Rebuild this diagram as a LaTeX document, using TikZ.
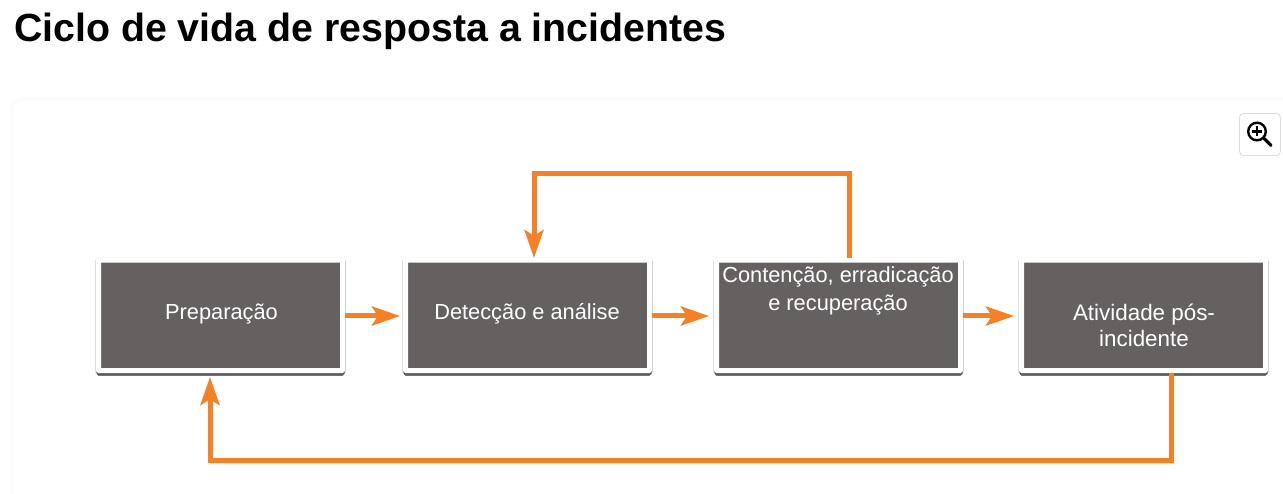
\documentclass[tikz,border=0pt]{standalone}
\usepackage{fontspec}
\setmainfont{Liberation Sans}
\usetikzlibrary{arrows.meta}
\definecolor{boxgray}{HTML}{656161}
\definecolor{arroworange}{HTML}{F58025}
\tikzset{
  x=1pt,y=-1pt,
  stagebox/.style={draw=white,line width=5pt,fill=boxgray,rounded corners=1pt,minimum width=244pt,minimum height=110.5pt,inner sep=0pt,anchor=center,
    preaction={draw=black,fill=none,line width=6.5pt,opacity=.2,transform canvas={yshift=-1pt}},
    preaction={draw=black,fill=none,line width=4pt,opacity=.55,transform canvas={yshift=-3.2pt}}},
  stagetext/.style={text=white,font=\fontsize{21.8}{28}\selectfont,align=center,inner sep=0pt},
  flow/.style={draw=arroworange,line width=5pt,-{Stealth[length=28pt,width=19pt,inset=6pt,fill=arroworange]}},
}
\begin{document}
\begin{tikzpicture}
\useasboundingbox (0,0) rectangle (1283,494);
\fill[white] (0,0) rectangle (1283,494);
% card with faint edge
\foreach \o in {4,3,2,1}{
  \path[fill=black!1.2,rounded corners=11pt] (14-\o,101-\o) rectangle (1300,520);
}
\path[fill=white,rounded corners=9pt] (14,101) rectangle (1300,520);
\node[anchor=base west,inner sep=0pt,font=\bfseries\fontsize{39.3}{42}\selectfont] (title) at (14,41.5) {Ciclo de vida de resposta a incidentes};
% zoom button
\node[draw=black!13,fill=white,line width=.8pt,rounded corners=4pt,minimum width=41pt,minimum height=42pt,inner sep=0pt] (zoombtn) at (1260,134.5) {};
\draw[line width=2.4pt] (1257,131.5) circle (8.8pt);
\draw[line width=3.2pt,line cap=round] (1264,138.5) -- (1271,145.5);
\draw[line width=2.6pt] (1252,131.5) -- (1262,131.5) (1257,126.5) -- (1257,136.5);
% boxes
\node[stagebox] (prep) at (220.5,315.5) {};
\node[stagebox] (det) at (527.5,315.5) {};
\node[stagebox] (cont) at (838.5,315.5) {};
\node[stagebox] (pos) at (1143.5,315.5) {};
\node[stagetext] (prept) at (221.5,314) {Preparação};
\node[stagetext] (dett) at (527,314) {Detecção e análise};
\node[stagetext] (contt) at (838,291) {Contenção, erradicação\\e recuperação};
\node[stagetext,font=\fontsize{22.4}{26}\selectfont] (post) at (1144,325) {Atividade pós-\\incidente};
% connector ends
\coordinate (loopstart) at (849,258);
\coordinate (looptr) at (849,174);
\coordinate (looptl) at (534,174);
\coordinate (loopend) at (534,258);
\coordinate (backstart) at (1171,373);
\coordinate (backbr) at (1171,460);
\coordinate (backbl) at (210,460);
\coordinate (backend) at (210,377);
\coordinate (a1s) at (345,316);\coordinate (a1e) at (400,316);
\coordinate (a2s) at (652,316);\coordinate (a2e) at (709,316);
\coordinate (a3s) at (963,316);\coordinate (a3e) at (1014,316);
\draw[flow] (a1s) -- (a1e);
\draw[flow] (a2s) -- (a2e);
\draw[flow] (a3s) -- (a3e);
\draw[flow] (loopstart) -- (looptr) -- (looptl) -- (loopend);
\draw[flow] (backstart) -- (backbr) -- (backbl) -- (backend);
\end{tikzpicture}
\end{document}
